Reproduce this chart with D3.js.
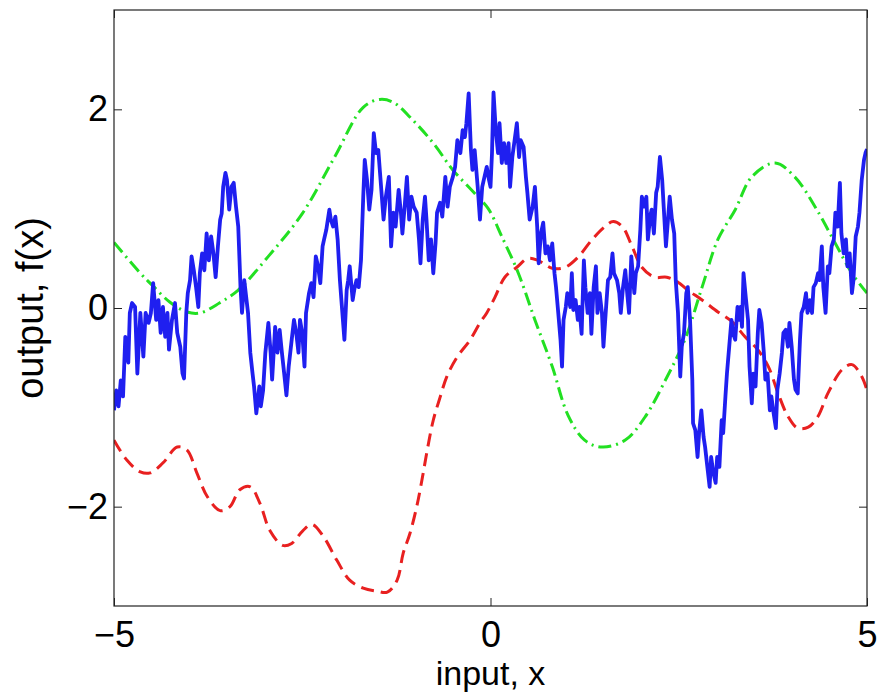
<!DOCTYPE html>
<html>
<head>
<meta charset="utf-8">
<script src="https://cdn.jsdelivr.net/npm/d3@7/dist/d3.min.js"></script>
<style>
  html, body { margin: 0; padding: 0; background: #ffffff; }
  svg { display: block; font-family: "Liberation Sans", Arial, Helvetica, sans-serif; }
</style>
</head>
<body>
<svg id="chart" width="881" height="694"></svg>
<script>
// ---------------- data ----------------
const xTicks = [-5, 0, 5];
const yTicks = [-2, 0, 2];
const xLabel = "input, x";
const yLabel = "output, f(x)";

// blue solid (rough sample)
const blueX = [
-5.00,-4.97,-4.94,-4.91,-4.88,-4.85,-4.81,-4.79,-4.76,-4.72,-4.69,-4.65,-4.61,-4.58,-4.54,-4.51,-4.48,-4.44,-4.41,-4.38,
-4.35,-4.32,-4.29,-4.27,-4.23,-4.19,-4.16,-4.12,-4.09,-4.07,-4.04,-4.02,-3.99,-3.97,-3.94,-3.91,-3.88,-3.86,-3.83,-3.80,
-3.77,-3.74,-3.71,-3.68,-3.65,-3.62,-3.59,-3.57,-3.55,-3.52,-3.50,-3.47,-3.44,-3.41,-3.38,-3.35,
-3.34,-3.32,-3.30,-3.27,-3.24,-3.22,-3.19,-3.16,-3.14,-3.11,-3.07,-3.05,-3.02,-2.99,-2.95,-2.92,-2.90,-2.86,-2.83,-2.80,
-2.77,-2.74,-2.71,-2.68,-2.64,-2.61,-2.58,-2.55,-2.53,-2.50,-2.47,-2.45,-2.41,-2.38,-2.35,-2.32,-2.29,-2.26,-2.23,-2.21,
-2.18,-2.14,-2.12,-2.09,-2.06,-2.03,-2.00,-1.97,-1.94,-1.91,-1.89,-1.87,-1.83,-1.81,-1.78,-1.75,-1.72,-1.69,
-1.67,-1.64,-1.61,-1.58,-1.55,-1.52,-1.49,-1.46,-1.42,-1.39,-1.35,-1.32,-1.29,-1.26,-1.22,-1.19,-1.17,-1.14,-1.11,-1.08,
-1.05,-1.02,-0.98,-0.95,-0.93,-0.90,-0.87,-0.85,-0.82,-0.79,-0.76,-0.73,-0.71,-0.67,-0.64,-0.60,-0.57,-0.54,-0.50,-0.47,
-0.44,-0.40,-0.37,-0.34,-0.32,-0.29,-0.26,-0.24,-0.21,-0.17,-0.14,-0.11,-0.08,-0.05,-0.02,
0.00,0.02,0.04,0.07,0.10,0.12,0.15,0.18,0.21,0.24,0.26,0.29,0.32,0.35,0.38,0.40,0.44,0.47,0.49,0.52,
0.56,0.59,0.62,0.64,0.67,0.70,0.73,0.76,0.79,0.82,0.85,0.87,0.90,0.93,0.95,0.97,1.00,1.02,1.06,1.08,
1.10,1.13,1.16,1.18,1.21,1.24,1.26,1.29,1.32,1.34,1.37,1.40,1.42,1.45,1.48,1.50,1.53,1.56,1.59,1.62,1.64,
1.68,1.71,1.73,1.76,1.79,1.82,1.84,1.87,1.91,1.93,1.96,1.99,2.01,2.04,2.07,2.09,2.12,2.14,2.17,2.20,
2.22,2.25,2.28,2.30,2.33,2.36,2.38,2.41,2.44,2.46,2.49,2.52,2.54,2.57,2.60,2.62,2.65,2.68,2.69,2.72,
2.75,2.77,2.80,2.83,2.85,2.88,2.91,2.93,2.96,2.99,3.01,3.04,3.07,3.09,3.12,3.14,3.17,3.20,3.22,3.25,3.28,3.30,
3.32,3.34,3.36,3.39,3.42,3.44,3.47,3.49,3.52,3.55,3.57,3.60,3.63,3.65,3.68,3.71,3.73,3.76,3.79,3.81,
3.84,3.87,3.89,3.92,3.95,3.97,4.00,4.03,4.05,4.08,4.11,4.13,4.16,4.19,4.21,4.24,4.27,4.29,4.32,4.35,
4.37,4.40,4.42,4.45,4.48,4.50,4.53,4.56,4.58,4.61,4.64,4.66,4.69,4.72,4.74,4.77,4.80,4.82,4.85,4.88,
4.90,4.93,4.96,4.98,5.00
];
const blueY = [
-1.03,-0.83,-0.99,-0.73,-0.89,-0.29,-0.55,-0.05,0.05,0.01,-0.66,-0.05,-0.49,-0.05,-0.15,-0.05,0.25,-0.12,0.08,-0.25,
0.01,-0.29,-0.05,-0.42,-0.12,0.05,-0.25,-0.39,-0.66,-0.71,-0.05,0.15,0.28,0.52,0.38,0.21,0.01,0.35,0.55,0.38,
0.75,0.48,0.72,0.55,0.31,0.62,0.89,0.95,1.22,1.36,1.29,0.99,1.22,1.26,1.02,0.82,
0.62,0.21,-0.05,0.28,0.08,-0.05,-0.45,-0.66,-0.79,-1.06,-0.79,-0.99,-0.83,-0.45,-0.15,-0.45,-0.72,-0.19,-0.45,-0.22,
-0.45,-0.66,-0.88,-0.59,-0.32,-0.12,-0.25,-0.45,-0.12,-0.25,-0.59,-0.05,0.15,0.25,0.11,0.52,0.42,0.25,0.62,0.69,
0.79,0.99,0.89,0.82,0.92,0.69,0.28,-0.02,-0.32,0.18,0.28,0.42,0.08,0.18,0.28,0.21,0.48,1.12,
1.49,1.29,0.99,1.19,1.76,1.56,1.59,1.29,0.89,1.12,1.32,0.62,0.96,0.82,1.19,0.96,0.75,1.02,1.32,0.89,
1.12,1.02,0.96,0.69,0.45,0.89,1.12,0.89,0.48,0.69,0.35,0.65,0.96,1.06,0.92,1.32,1.02,1.22,1.32,1.42,
1.69,1.56,1.79,1.72,1.86,2.16,1.59,1.39,1.59,1.22,0.89,1.22,1.32,1.42,1.29,
1.22,1.56,2.17,1.79,1.56,1.86,1.46,1.66,1.46,1.66,1.22,1.52,1.69,1.86,1.52,1.69,1.62,1.32,1.16,0.89,
1.02,1.22,0.82,0.45,0.75,0.86,0.55,0.62,0.48,0.65,0.35,0.21,-0.05,-0.32,-0.59,-0.12,0.01,0.15,0.01,0.35,
-0.02,0.08,-0.12,0.01,-0.26,0.48,0.21,-0.05,0.15,-0.26,0.21,0.42,-0.05,0.15,-0.05,-0.39,-0.05,0.28,0.31,0.55,0.35,
0.28,0.15,-0.05,0.21,0.38,0.11,-0.05,0.52,0.15,0.35,0.42,0.79,1.12,1.02,1.12,0.69,0.92,0.99,0.75,1.16,
1.22,1.52,1.29,1.02,0.62,0.92,1.12,0.89,0.75,0.28,-0.05,-0.69,-0.39,-0.25,0.15,0.21,-0.12,-0.72,-1.16,-1.23,
-1.50,-1.26,-1.03,-1.30,-1.40,-1.60,-1.80,-1.50,-1.66,-1.76,-1.50,-1.60,-1.13,-1.26,-0.89,-0.66,-0.39,-0.12,-0.25,-0.32,0.01,-0.12,
0.01,-0.19,0.35,0.11,-0.12,-0.59,-0.96,-0.66,-0.79,-0.25,-0.02,-0.15,-0.45,-0.72,-0.66,-1.03,-0.89,-1.06,-1.21,-0.82,
-0.66,-0.45,-0.25,-0.22,-0.39,-0.15,-0.39,-0.72,-0.82,-0.86,-0.32,-0.05,0.01,0.15,-0.05,0.08,-0.05,0.21,0.25,0.35,
0.28,0.62,0.21,-0.05,0.42,0.35,0.62,0.69,0.96,0.82,1.26,0.75,0.55,0.69,0.42,0.55,0.15,0.28,0.72,0.82,
0.96,1.29,1.49,1.56,1.60
];

// red dashed
const redX = [-5.00,-4.83,-4.65,-4.52,-4.35,-4.16,-4.03,-3.90,-3.76,-3.59,-3.46,-3.33,-3.19,-3.06,-2.93,-2.76,-2.64,-2.49,-2.37,-2.22,
-2.04,-1.87,-1.69,-1.51,-1.37,-1.24,-1.16,-1.07,-0.98,-0.91,-0.84,-0.76,-0.67,-0.58,-0.44,-0.27,-0.14,-0.05,0.06,0.19,
0.35,0.50,0.63,0.82,0.99,1.16,1.35,1.52,1.63,1.75,1.88,2.01,2.18,2.34,2.49,2.62,2.81,3.02,3.21,3.38,
3.55,3.69,3.82,3.95,4.08,4.22,4.35,4.48,4.67,4.80,4.93,5.00];
const redY = [-1.33,-1.53,-1.65,-1.66,-1.56,-1.40,-1.43,-1.66,-1.90,-2.04,-2.00,-1.83,-1.80,-1.97,-2.24,-2.39,-2.37,-2.24,-2.18,-2.30,
-2.54,-2.74,-2.82,-2.85,-2.86,-2.74,-2.47,-2.27,-2.00,-1.73,-1.43,-1.13,-0.90,-0.69,-0.49,-0.32,-0.15,-0.05,0.11,0.31,
0.41,0.50,0.48,0.40,0.41,0.51,0.69,0.82,0.87,0.82,0.62,0.41,0.31,0.31,0.26,0.18,0.08,-0.04,-0.14,-0.29,
-0.42,-0.59,-0.86,-1.09,-1.21,-1.20,-1.09,-0.86,-0.62,-0.57,-0.69,-0.83];

// green dash-dot
const greenX = [-5.00,-4.65,-4.48,-4.26,-4.03,-3.86,-3.60,-3.35,-2.95,-2.50,-2.07,-1.69,-1.47,-1.29,-1.03,-0.76,-0.50,-0.23,-0.03,0.15,
0.37,0.59,0.82,1.03,1.25,1.48,1.79,2.05,2.32,2.58,2.81,3.02,3.25,3.47,3.78,4.04,4.31,4.58,4.80,5.00];
const greenY = [0.66,0.35,0.22,0.06,-0.04,-0.05,0.05,0.18,0.52,0.95,1.52,2.02,2.10,2.07,1.89,1.66,1.39,1.17,1.00,0.72,
0.35,-0.12,-0.59,-1.08,-1.33,-1.40,-1.33,-1.10,-0.73,-0.32,0.21,0.69,0.99,1.32,1.46,1.32,1.02,0.65,0.35,0.15];

// ---------------- layout ----------------
const W = 881, H = 694;
const plot = { left: 114, right: 867, top: 10, bottom: 606 };

const svg = d3.select("#chart");
const x = d3.scaleLinear().domain([-5, 5]).range([plot.left, plot.right]);
const y = d3.scaleLinear().domain([-3, 3]).range([plot.bottom, plot.top]);

svg.append("defs").append("clipPath").attr("id", "clip")
  .append("rect")
  .attr("x", plot.left).attr("y", plot.top)
  .attr("width", plot.right - plot.left).attr("height", plot.bottom - plot.top);

const g = svg.append("g").attr("clip-path", "url(#clip)");

const zip = (xs, ys) => xs.map((v, i) => [v, ys[i]]);

const lineLin = d3.line().x(d => x(d[0])).y(d => y(d[1]));
const lineSmooth = d3.line().x(d => x(d[0])).y(d => y(d[1])).curve(d3.curveCatmullRom.alpha(0.5));

g.append("path")
  .datum(zip(greenX, greenY))
  .attr("d", lineSmooth)
  .attr("fill", "none")
  .attr("stroke", "#22e022")
  .attr("stroke-width", 3)
  .attr("stroke-dasharray", "13,5,2,5");

g.append("path")
  .datum(zip(redX, redY))
  .attr("d", lineSmooth)
  .attr("fill", "none")
  .attr("stroke", "#e82020")
  .attr("stroke-width", 3)
  .attr("stroke-dasharray", "13,7");

g.append("path")
  .datum(zip(blueX, blueY))
  .attr("d", lineLin)
  .attr("fill", "none")
  .attr("stroke", "#1f1ff0")
  .attr("stroke-width", 3.8)
  .attr("stroke-linejoin", "round");

// ---------------- axes ----------------
const fmt = d => d3.format("d")(d).replace("-", "\u2212");

const axB = svg.append("g").attr("transform", `translate(0,${plot.bottom})`)
  .call(d3.axisBottom(x).tickValues(xTicks).tickSize(-8).tickPadding(15).tickFormat(fmt));
const axT = svg.append("g").attr("transform", `translate(0,${plot.top})`)
  .call(d3.axisTop(x).tickValues(xTicks).tickSize(-8).tickFormat(""));
const axL = svg.append("g").attr("transform", `translate(${plot.left},0)`)
  .call(d3.axisLeft(y).tickValues(yTicks).tickSize(-8).tickPadding(6).tickFormat(fmt));
const axR = svg.append("g").attr("transform", `translate(${plot.right},0)`)
  .call(d3.axisRight(y).tickValues(yTicks).tickSize(-8).tickFormat(""));

[axB, axT, axL, axR].forEach(a => {
  a.select(".domain").remove();
  a.selectAll(".tick line").attr("stroke", "#222").attr("stroke-width", 1);
  a.selectAll(".tick text")
    .attr("fill", "#000")
    .style("font-family", '"Liberation Sans", Arial, Helvetica, sans-serif')
    .style("font-size", "36px");
});

svg.append("rect")
  .attr("x", plot.left).attr("y", plot.top)
  .attr("width", plot.right - plot.left).attr("height", plot.bottom - plot.top)
  .attr("fill", "none").attr("stroke", "#222").attr("stroke-width", 1.2);

svg.append("text")
  .attr("x", (plot.left + plot.right) / 2)
  .attr("y", 685)
  .attr("text-anchor", "middle")
  .style("font-size", "34px")
  .attr("fill", "#000")
  .text(xLabel);

svg.append("text")
  .attr("transform", `translate(43,${(plot.top + plot.bottom) / 2}) rotate(-90)`)
  .attr("text-anchor", "middle")
  .style("font-size", "38px")
  .attr("fill", "#000")
  .text(yLabel);
</script>
</body>
</html>
